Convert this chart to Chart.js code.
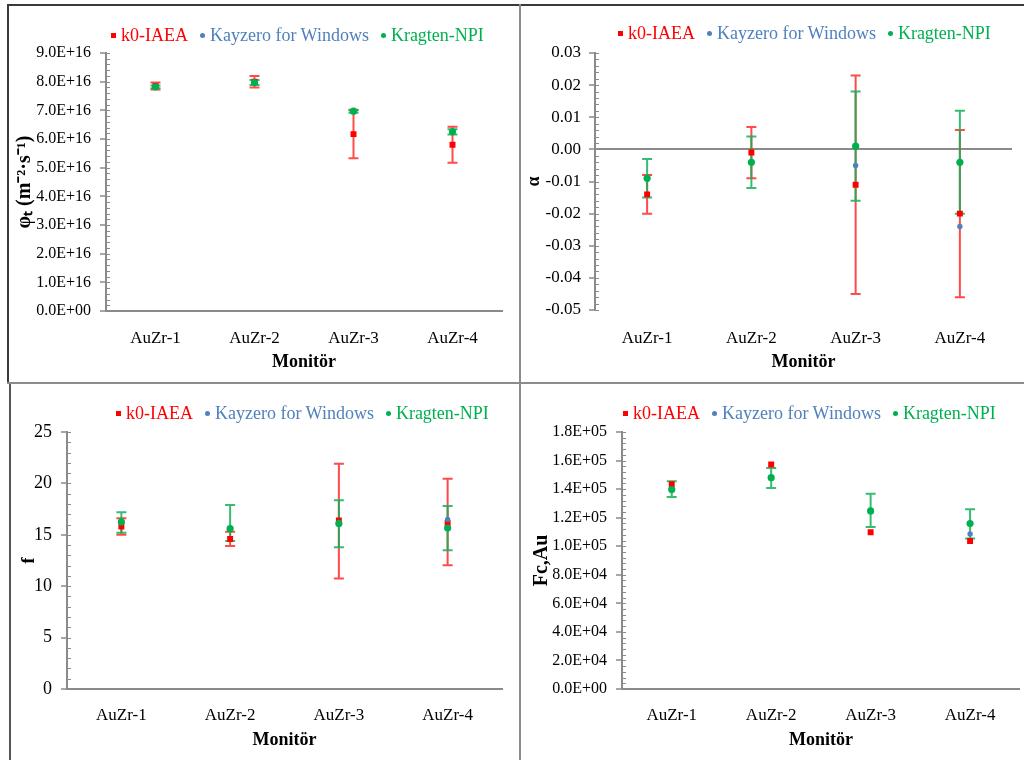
<!DOCTYPE html>
<html>
<head>
<meta charset="utf-8">
<script src="https://cdn.jsdelivr.net/npm/chart.js@4.4.1/dist/chart.umd.min.js"></script>
<style>
    body { margin: 0; width: 1024px; height: 760px; background: #fff; position: relative; overflow: hidden; }
    .panel { position: absolute; }
    .panel canvas { position: absolute; left: 0; top: 0; }
    .legend { position: absolute; display: flex; align-items: center; white-space: nowrap;
              font: 18px 'Liberation Serif', 'Times New Roman', serif; line-height: 20px; }
    .legend .item { display: flex; align-items: center; margin-right: 12px; }
    .legend .mark { width: 5px; height: 5px; margin-right: 5px; }
    .legend .mark.dot { border-radius: 50%; }
    .rule { position: absolute; z-index: 5; }
</style>
</head>
<body>

<div class="panel" style="left:8px; top:5px; width:512px; height:378px;">
    <canvas id="chart-phi" width="512" height="378"></canvas>
    <div class="legend" id="legend-phi" style="left:103px; top:20px;"></div>
</div>
<div class="panel" style="left:520px; top:5px; width:504px; height:378px;">
    <canvas id="chart-alpha" width="504" height="378"></canvas>
    <div class="legend" id="legend-alpha" style="left:98px; top:18px;"></div>
</div>
<div class="panel" style="left:10px; top:385px; width:510px; height:375px;">
    <canvas id="chart-f" width="510" height="375"></canvas>
    <div class="legend" id="legend-f" style="left:106px; top:18px;"></div>
</div>
<div class="panel" style="left:520px; top:385px; width:504px; height:375px;">
    <canvas id="chart-fc" width="504" height="375"></canvas>
    <div class="legend" id="legend-fc" style="left:103px; top:18px;"></div>
</div>

<!-- frame lines -->
<div class="rule" style="left:7px; top:4px; width:1017px; height:2px; background:#3a3a3a;"></div>
<div class="rule" style="left:7px; top:4px; width:2px; height:380px; background:#3a3a3a;"></div>
<div class="rule" style="left:9px; top:383px; width:2px; height:377px; background:#555;"></div>
<div class="rule" style="left:519px; top:4px; width:2px; height:756px; background:#8c8c8c;"></div>
<div class="rule" style="left:7px; top:382px; width:1017px; height:2px; background:#8c8c8c;"></div>

<script>
// Categories and series
const monitors = ['AuZr-1', 'AuZr-2', 'AuZr-3', 'AuZr-4'];
const seriesNames = ['k0-IAEA', 'Kayzero for Windows', 'Kragten-NPI'];
const seriesColors = ['#ff0000', '#4f81bd', '#00b050'];
const errorColors = ['rgba(255, 30, 30, 0.8)', null, 'rgba(20, 176, 90, 0.85)'];

// Thermal neutron flux (phi_t)
const phiIaea = [7.85e16, 8.00e16, 6.17e16, 5.80e16];
const phiIaeaLow = [7.73e16, 7.80e16, 5.33e16, 5.17e16];
const phiIaeaHigh = [7.97e16, 8.20e16, 7.00e16, 6.43e16];
const phiKayzero = [7.83e16, 7.98e16, 6.97e16, 6.27e16];
const phiKragten = [7.82e16, 7.97e16, 6.97e16, 6.25e16];
const phiKragtenLow = [7.77e16, 7.88e16, 6.92e16, 6.16e16];
const phiKragtenHigh = [7.87e16, 8.06e16, 7.02e16, 6.34e16];

// Alpha
const alphaIaea = [-0.014, -0.001, -0.011, -0.020];
const alphaIaeaLow = [-0.020, -0.009, -0.045, -0.046];
const alphaIaeaHigh = [-0.008, 0.007, 0.023, 0.006];
const alphaKayzero = [-0.009, -0.004, -0.005, -0.024];
const alphaKragten = [-0.009, -0.004, 0.001, -0.004];
const alphaKragtenLow = [-0.015, -0.012, -0.016, -0.020];
const alphaKragtenHigh = [-0.003, 0.004, 0.018, 0.012];

// f
const fIaea = [15.8, 14.6, 16.4, 16.15];
const fIaeaLow = [15.0, 13.9, 10.75, 12.05];
const fIaeaHigh = [16.6, 15.3, 21.9, 20.45];
const fKayzero = [16.2, 15.6, 16.2, 16.5];
const fKragten = [16.25, 15.6, 16.1, 15.65];
const fKragtenLow = [15.2, 14.4, 13.8, 13.5];
const fKragtenHigh = [17.2, 17.9, 18.35, 17.8];

// Fc,Au
const fcIaea = [1.434e5, 1.573e5, 1.098e5, 1.037e5];
const fcKayzero = [1.40e5, 1.48e5, 1.247e5, 1.086e5];
const fcKragten = [1.397e5, 1.48e5, 1.247e5, 1.159e5];
const fcKragtenLow = [1.345e5, 1.408e5, 1.135e5, 1.054e5];
const fcKragtenHigh = [1.455e5, 1.548e5, 1.368e5, 1.259e5];

const serif = "'Liberation Serif', 'Times New Roman', serif";
Chart.defaults.font.family = serif;
Chart.defaults.color = '#000';

// Draw all error bars first (series order), markers go on top
const errorBarsPlugin = {
    id: 'errorBars',
    beforeDatasetsDraw(chart) {
        const yScale = chart.scales.y;
        const ctx = chart.ctx;
        chart.data.datasets.forEach((ds, di) => {
            if (!ds.errLow) return;
            const meta = chart.getDatasetMeta(di);
            ctx.save();
            ctx.strokeStyle = ds.errColor;
            ctx.lineWidth = 2;
            meta.data.forEach((pt, i) => {
                const lo = ds.errLow[i];
                const hi = ds.errHigh[i];
                if (lo == null || hi == null) return;
                const x = pt.x;
                const yLo = yScale.getPixelForValue(lo);
                const yHi = yScale.getPixelForValue(hi);
                ctx.beginPath();
                ctx.moveTo(x, yLo); ctx.lineTo(x, yHi);
                ctx.moveTo(x - 5, yLo); ctx.lineTo(x + 5, yLo);
                ctx.moveTo(x - 5, yHi); ctx.lineTo(x + 5, yHi);
                ctx.stroke();
            });
            ctx.restore();
        });
    }
};

// Small inside ticks on the value axis, like Excel minor ticks
const minorTicksPlugin = {
    id: 'minorTicks',
    afterDraw(chart, args, opts) {
        if (!opts.step) return;
        const y = chart.scales.y;
        const ctx = chart.ctx;
        const x0 = chart.chartArea.left;
        const n = Math.round((y.max - y.min) / opts.step);
        ctx.save();
        ctx.strokeStyle = '#8a8a8a';
        ctx.lineWidth = 1;
        for (let i = 0; i <= n; i++) {
            const py = Math.round(y.getPixelForValue(y.min + i * opts.step)) + 0.5;
            ctx.beginPath();
            ctx.moveTo(x0, py);
            ctx.lineTo(x0 + 4, py);
            ctx.stroke();
        }
        ctx.restore();
    }
};

// Format like Excel scientific: 9.0E+16, 0.0E+00
function sciLabel(v) {
    const [m, e] = Number(v).toExponential(1).split('e');
    const exp = parseInt(e, 10);
    return m + 'E' + (exp < 0 ? '-' : '+') + String(Math.abs(exp)).padStart(2, '0');
}

function makeDataset(i, values, low, high) {
    const styles = ['rect', 'circle', 'circle'];
    const radii = [4.2, 2.7, 3.6];
    return {
        label: seriesNames[i],
        data: values,
        showLine: false,
        pointStyle: styles[i],
        pointRadius: radii[i],
        pointBackgroundColor: seriesColors[i],
        pointBorderColor: seriesColors[i],
        pointBorderWidth: 0,
        backgroundColor: seriesColors[i],
        borderColor: seriesColors[i],
        errLow: low,
        errHigh: high,
        errColor: errorColors[i],
        order: 3 - i
    };
}

function buildLegend(id) {
    const el = document.getElementById(id);
    seriesNames.forEach((name, i) => {
        const item = document.createElement('span');
        item.className = 'item';
        const mark = document.createElement('span');
        mark.className = i === 0 ? 'mark' : 'mark dot';
        mark.style.background = seriesColors[i];
        const text = document.createElement('span');
        text.textContent = name;
        text.style.color = seriesColors[i];
        item.appendChild(mark);
        item.appendChild(text);
        el.appendChild(item);
    });
}

function makeChart(canvasId, datasets, cfg) {
    const ctx = document.getElementById(canvasId).getContext('2d');
    return new Chart(ctx, {
        type: 'line',
        data: { labels: monitors, datasets: datasets },
        plugins: [errorBarsPlugin, minorTicksPlugin],
        options: {
            responsive: false,
            animation: false,
            layout: { padding: cfg.padding },
            plugins: {
                legend: { display: false },
                tooltip: { enabled: false },
                minorTicks: { step: cfg.minorStep }
            },
            scales: {
                x: {
                    offset: true,
                    afterFit: (scale) => { scale.height = cfg.xHeight; },
                    grid: { display: false, drawTicks: false },
                    border: { display: cfg.xBorder, color: '#8a8a8a', width: 2 },
                    ticks: { padding: cfg.xTickPad, font: { size: 17 }, color: '#000' },
                    title: {
                        display: true, text: 'Monitör', color: '#000',
                        font: { size: 18, weight: 'bold' },
                        padding: { top: 0, bottom: cfg.xTitlePad }
                    }
                },
                y: {
                    min: cfg.min,
                    max: cfg.max,
                    afterFit: (scale) => { scale.width = cfg.yWidth; },
                    grid: {
                        drawOnChartArea: !!cfg.zeroLine,
                        color: (c) => (cfg.zeroLine && Math.abs(c.tick.value) < 1e-9) ? '#8a8a8a' : 'rgba(0,0,0,0)',
                        lineWidth: 2,
                        tickColor: '#8a8a8a',
                        tickWidth: 1.5,
                        tickLength: 6
                    },
                    border: { display: true, color: '#8a8a8a', width: 2 },
                    ticks: {
                        stepSize: cfg.step,
                        padding: cfg.yTickPad,
                        font: { size: cfg.yTickSize },
                        color: '#000',
                        callback: cfg.format
                    },
                    title: {
                        display: true, text: cfg.yTitle, color: '#000',
                        font: { size: cfg.yTitleSize, weight: 'bold' },
                        padding: { top: 0, bottom: 0 }
                    }
                }
            }
        }
    });
}

// Top left: thermal flux
makeChart('chart-phi', [
    makeDataset(0, phiIaea, phiIaeaLow, phiIaeaHigh),
    makeDataset(1, phiKayzero, null, null),
    makeDataset(2, phiKragten, phiKragtenLow, phiKragtenHigh)
], {
    padding: { left: 5, top: 48, right: 18, bottom: 4 },
    yWidth: 93, xHeight: 68, xTickPad: 17, xTitlePad: 6, xBorder: true,
    min: 0, max: 9e16, step: 1e16, minorStep: 0.2e16,
    yTickPad: 9, yTickSize: 16, yTitleSize: 20,
    yTitle: 'φₜ (m⁻²·s⁻¹)',
    format: (v) => sciLabel(v)
});

// Top right: alpha
makeChart('chart-alpha', [
    makeDataset(0, alphaIaea, alphaIaeaLow, alphaIaeaHigh),
    makeDataset(1, alphaKayzero, null, null),
    makeDataset(2, alphaKragten, alphaKragtenLow, alphaKragtenHigh)
], {
    padding: { left: 4, top: 48, right: 12, bottom: 4 },
    yWidth: 71, xHeight: 69, xTickPad: 18, xTitlePad: 6, xBorder: false,
    min: -0.05, max: 0.03, step: 0.01, minorStep: 0.002, zeroLine: true,
    yTickPad: 8, yTickSize: 17, yTitleSize: 18,
    yTitle: 'α',
    format: (v) => (Math.abs(v) < 1e-9 ? 0 : v).toFixed(2)
});

// Bottom left: f
makeChart('chart-f', [
    makeDataset(0, fIaea, fIaeaLow, fIaeaHigh),
    makeDataset(1, fKayzero, null, null),
    makeDataset(2, fKragten, fKragtenLow, fKragtenHigh)
], {
    padding: { left: 9, top: 47, right: 18, bottom: 4 },
    yWidth: 48, xHeight: 67, xTickPad: 16, xTitlePad: 5, xBorder: true,
    min: 0, max: 25, step: 5, minorStep: 1,
    yTickPad: 9, yTickSize: 18, yTitleSize: 18,
    yTitle: 'f',
    format: (v) => String(v)
});

// Bottom right: Fc,Au
makeChart('chart-fc', [
    makeDataset(0, fcIaea, null, null),
    makeDataset(1, fcKayzero, null, null),
    makeDataset(2, fcKragten, fcKragtenLow, fcKragtenHigh)
], {
    padding: { left: 10, top: 47, right: 4, bottom: 4 },
    yWidth: 92, xHeight: 67, xTickPad: 16, xTitlePad: 5, xBorder: true,
    min: 0, max: 1.8e5, step: 2e4, minorStep: 4e3,
    yTickPad: 9, yTickSize: 16, yTitleSize: 20,
    yTitle: 'Fc,Au',
    format: (v) => sciLabel(v)
});

['legend-phi', 'legend-alpha', 'legend-f', 'legend-fc'].forEach(buildLegend);
</script>
</body>
</html>
